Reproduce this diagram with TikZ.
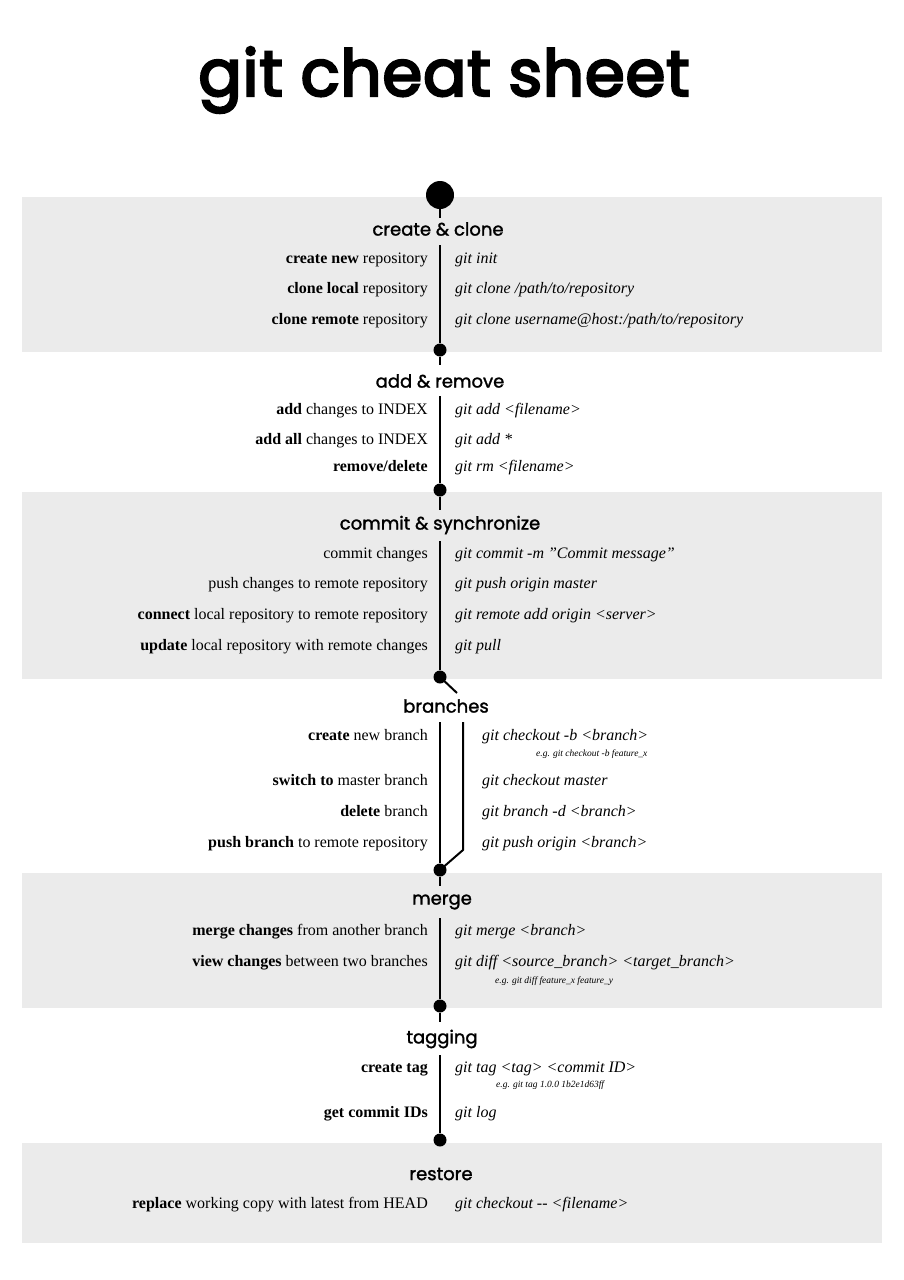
\documentclass[tikz,border=0pt]{standalone}
\usepackage{fontspec}
\setmainfont{Liberation Serif}
\newfontfamily\hfont{Poppins}[FakeBold=1.5]
\newfontfamily\tfont{Poppins}[FakeBold=4, LetterSpace=1.5]
\definecolor{bandgray}{HTML}{EBEBEB}
\begin{document}
\begin{tikzpicture}[x=1pt,y=-1pt,
  band/.style={fill=bandgray, draw=none},
  spine/.style={line width=2pt, draw=black},
  dotnode/.style={circle, fill=black, inner sep=0pt, minimum size=13pt},
  bigdot/.style={circle, fill=black, inner sep=0pt, minimum size=28pt},
  hdr/.style={font=\hfont\fontsize{18}{20}\selectfont, inner sep=0pt},
  ttl/.style={font=\tfont\fontsize{64}{70}\selectfont, inner sep=0pt},
  lbl/.style={anchor=mid east, font=\fontsize{16}{18}\selectfont, inner sep=0pt},
  cmd/.style={anchor=mid west, font=\itshape\fontsize{16}{18}\selectfont, inner sep=0pt},
  eg/.style={anchor=mid west, font=\itshape\fontsize{9.5}{11}\selectfont, inner sep=0pt}]
\useasboundingbox[fill=white] (0,0) rectangle (904,1280);
% bands
\fill[band] (22,197) rectangle (882,352);
\fill[band] (22,492) rectangle (882,679);
\fill[band] (22,873) rectangle (882,1008);
\fill[band] (22,1143) rectangle (882,1243);
% title
\node[ttl] (title) at (444,80) {git cheat sheet};
% dots
\node[bigdot] (d0) at (440,195) {};
\node[dotnode] (d1) at (440,350) {};
\node[dotnode] (d2) at (440,490) {};
\node[dotnode] (d3) at (440,677) {};
\node[dotnode] (d4) at (440,870) {};
\node[dotnode] (d5) at (440,1006) {};
\node[dotnode] (d6) at (440,1140) {};
% spine coordinates
\coordinate (a0) at (440,218); \coordinate (a1) at (440,245);
\coordinate (b0) at (440,365); \coordinate (b1) at (440,396);
\coordinate (c0) at (440,510); \coordinate (c1) at (440,541);
\coordinate (e0) at (457,693); \coordinate (e1) at (440,722);
\coordinate (f1) at (463,722); \coordinate (f2) at (463,850);
\coordinate (g0) at (440,886); \coordinate (g1) at (440,918);
\coordinate (h0) at (440,1022); \coordinate (h1) at (440,1055);
\draw[spine] (d0) -- (a0); \draw[spine] (a1) -- (d1);
\draw[spine] (d1) -- (b0); \draw[spine] (b1) -- (d2);
\draw[spine] (d2) -- (c0); \draw[spine] (c1) -- (d3);
\draw[spine] (d3.center) -- (e0); \draw[spine] (e1) -- (d4);
\draw[spine] (f1) -- (f2) -- (d4.center);
\draw[spine] (d4) -- (g0); \draw[spine] (g1) -- (d5);
\draw[spine] (d5) -- (h0); \draw[spine] (h1) -- (d6);
% headers
\node[hdr] (h_cc) at (438,229) {create \& clone};
\node[hdr] (h_ar) at (440,381) {add \& remove};
\node[hdr] (h_cs) at (440,525) {commit \& synchronize};
\node[hdr] (h_br) at (446,706) {branches};
\node[hdr] (h_mg) at (442,902) {merge};
\node[hdr] (h_tg) at (442,1039) {tagging};
\node[hdr] (h_rs) at (441,1174) {restore};
% create & clone
\node[lbl] (l1) at (428,261) {\textbf{create new} repository};
\node[cmd] (r1) at (455,261) {git init};
\node[lbl] (l2) at (428,291) {\textbf{clone local} repository};
\node[cmd] (r2) at (455,291) {git clone /path/to/repository};
\node[lbl] (l3) at (428,322) {\textbf{clone remote} repository};
\node[cmd] (r3) at (455,322) {git clone username@host:/path/to/repository};
% add & remove
\node[lbl] (l4) at (428,412) {\textbf{add} changes to INDEX};
\node[cmd] (r4) at (455,412) {git add <filename>};
\node[lbl] (l5) at (428,442) {\textbf{add all} changes to INDEX};
\node[cmd] (r5) at (455,442) {git add *};
\node[lbl] (l6) at (428,469) {\textbf{remove/delete}};
\node[cmd] (r6) at (455,469) {git rm <filename>};
% commit & synchronize
\node[lbl] (l7) at (428,556) {commit changes};
\node[cmd] (r7) at (455,556) {git commit -m \symbol{34}Commit message\symbol{34}};
\node[lbl] (l8) at (428,586) {push changes to remote repository};
\node[cmd] (r8) at (455,586) {git push origin master};
\node[lbl] (l9) at (428,617) {\textbf{connect} local repository to remote repository};
\node[cmd] (r9) at (455,617) {git remote add origin <server>};
\node[lbl] (l10) at (428,648) {\textbf{update} local repository with remote changes};
\node[cmd] (r10) at (455,648) {git pull};
% branches
\node[lbl] (l11) at (428,738) {\textbf{create} new branch};
\node[cmd] (r11) at (482,738) {git checkout -b <branch>};
\node[eg] (x11) at (536,754) {e.g. git checkout -b feature\_x};
\node[lbl] (l12) at (428,783) {\textbf{switch to} master branch};
\node[cmd] (r12) at (482,783) {git checkout master};
\node[lbl] (l13) at (428,814) {\textbf{delete} branch};
\node[cmd] (r13) at (482,814) {git branch -d <branch>};
\node[lbl] (l14) at (428,845) {\textbf{push branch} to remote repository};
\node[cmd] (r14) at (482,845) {git push origin <branch>};
% merge
\node[lbl] (l15) at (428,933) {\textbf{merge changes} from another branch};
\node[cmd] (r15) at (455,933) {git merge <branch>};
\node[lbl] (l16) at (428,964) {\textbf{view changes} between two branches};
\node[cmd] (r16) at (455,964) {git diff <source\_branch> <target\_branch>};
\node[eg] (x16) at (495,981) {e.g. git diff feature\_x feature\_y};
% tagging
\node[lbl] (l17) at (428,1070) {\textbf{create tag}};
\node[cmd] (r17) at (455,1070) {git tag <tag> <commit ID>};
\node[eg] (x17) at (496,1085) {e.g. git tag 1.0.0 1b2e1d63ff};
\node[lbl] (l18) at (428,1115) {\textbf{get commit IDs}};
\node[cmd] (r18) at (455,1115) {git log};
% restore
\node[lbl] (l19) at (428,1206) {\textbf{replace} working copy with latest from HEAD};
\node[cmd] (r19) at (455,1206) {git checkout -{}- <filename>};
\end{tikzpicture}
\end{document}
